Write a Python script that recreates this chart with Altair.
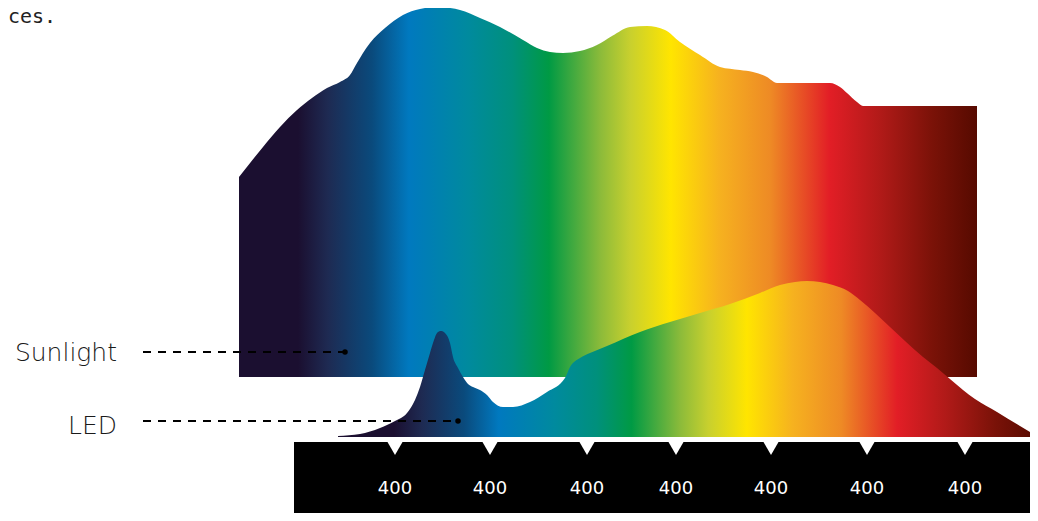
import altair as alt
import pandas as pd

# ---- data (x in wavelength-position units, y in intensity units)
sun_x = [239, 263, 280, 297, 312, 327, 340, 350, 357, 363, 370, 385, 403, 420, 437, 460, 480,
         500, 523, 537, 550, 563, 580, 597, 612, 630, 647, 665, 680, 700, 720, 740, 753, 767,
         777, 830, 840, 847, 857, 863, 977]
sun_y = [336, 366, 386, 403, 415, 425, 431, 438, 450, 460, 470, 485, 498, 504, 506, 503, 495,
         486, 473, 465, 461, 460, 462, 468, 477, 486, 487, 483, 471, 458, 446, 443, 441, 436,
         430, 430, 426, 420, 411, 407, 407]
sun_base = 136

led_x = [338, 360, 380, 395, 407, 415, 420, 425, 430, 434, 437, 441, 445, 450, 453, 458, 463,
         468, 473, 480, 487, 493, 503, 513, 530, 547, 565, 570, 580, 590, 607, 640, 670, 700,
         730, 760, 780, 795, 807, 820, 833, 848, 860, 875, 890, 905, 923, 937, 950, 963, 975,
         997, 1020, 1037]
led_y = [77, 79, 85, 92, 100, 113, 126, 143, 160, 173, 180, 182, 180, 170, 156, 145, 136,
         129, 126, 123, 118, 111, 106, 106, 111, 121, 135, 146, 155, 160, 167, 181, 191, 200,
         209, 220, 228, 231, 232, 231, 228, 222, 213, 200, 186, 172, 156, 145, 134, 123, 114,
         101, 87, 77]
led_base = 76

tick_x = [395, 490, 587, 676, 771, 867, 965]
tick_labels = ["400", "400", "400", "400", "400", "400", "400"]

series_names = ["Sunlight", "LED"]
leader_y = [161, 92]
leader_x_start = [143, 143]
leader_x_end = [345, 458]
label_y = [152, 79]
label_x = [117, 117]

bar_x = [294, 1040]
bar_y = [71, -8]
caption = "ces."

spectrum_offsets = [0.0, 0.08, 0.12, 0.18, 0.23, 0.31, 0.37, 0.42, 0.49, 0.53, 0.585,
                    0.65, 0.72, 0.80, 0.87, 0.94, 1.0]
spectrum_colors = ["#1b0f30", "#1b0f30", "#1e2a52", "#0a4a7c", "#0079bf", "#008a9e",
                   "#00907c", "#009a44", "#8cbb3a", "#c8d02e", "#ffe500", "#f6b21f",
                   "#ee8a25", "#e21e26", "#b01a18", "#7a1208", "#560a00"]

W, H = 1022, 505
xs = alt.Scale(domain=[8, 1030], nice=False, zero=False)
ys = alt.Scale(domain=[0, 505], nice=False, zero=False)

grad = alt.LinearGradient(
    gradient="linear",
    stops=[alt.GradientStop(offset=o, color=c) for o, c in zip(spectrum_offsets, spectrum_colors)],
    x1=0, x2=1, y1=0, y2=0,
)

sun_df = pd.DataFrame({"x": sun_x, "y": sun_y, "base": sun_base})
led_df = pd.DataFrame({"x": led_x, "y": led_y, "base": led_base})

def X(f="x"):
    return alt.X(f, type="quantitative", scale=xs, axis=None)

def Y(f="y"):
    return alt.Y(f, type="quantitative", scale=ys, axis=None)

sun = alt.Chart(sun_df).mark_area(color=grad, interpolate="monotone").encode(
    x=X(), y=Y(), y2="base:Q")
led = alt.Chart(led_df).mark_area(color=grad, interpolate="monotone").encode(
    x=X(), y=Y(), y2="base:Q")

bar_df = pd.DataFrame({"x": [bar_x[0]], "x2": [bar_x[1]], "y": [bar_y[0]], "y2": [bar_y[1]]})
bar = alt.Chart(bar_df).mark_rect(color="black").encode(
    x=X(), x2="x2:Q", y=Y(), y2="y2:Q")

tick_df = pd.DataFrame({"x": tick_x, "label": tick_labels, "ty": 64.5, "ly": 24})
ticks = alt.Chart(tick_df).mark_point(shape="triangle-down", filled=True, color="white",
                                      opacity=1, size=225, strokeWidth=0).encode(
    x=X(), y=Y("ty"))
tick_text = alt.Chart(tick_df).mark_text(color="white", font="DejaVu Sans", fontSize=18,
                                         baseline="middle", align="center").encode(
    x=X(), y=Y("ly"), text="label:N")

lead_df = pd.DataFrame({"name": series_names, "y": leader_y, "x": leader_x_start,
                        "x2": leader_x_end, "ly": label_y, "lx": label_x})
leaders = alt.Chart(lead_df).mark_rule(color="black", strokeWidth=2, strokeDash=[8, 7]).encode(
    x=X(), x2="x2:Q", y=Y())
dots = alt.Chart(lead_df).mark_point(shape="circle", filled=True, color="black",
                                     opacity=1, size=30).encode(x=X("x2"), y=Y())
labels = alt.Chart(lead_df).mark_text(color="#1a1a1a", font="DejaVu Sans", fontSize=25,
                                      fontWeight=200, align="right",
                                      baseline="alphabetic").encode(
    x=X("lx"), y=Y("ly"), text="name:N")

cap_df = pd.DataFrame({"x": [8], "y": [490], "t": [caption]})
cap = alt.Chart(cap_df).mark_text(color="#222222", font="DejaVu Sans Mono", fontSize=20,
                                  fontWeight=200, align="left", baseline="alphabetic").encode(
    x=X(), y=Y(), text="t:N")

chart = alt.layer(sun, led, bar, ticks, tick_text, leaders, dots, labels, cap).properties(
    width=W, height=H, autosize=alt.AutoSizeParams(type="none"), padding=0
).configure(background="white", view=alt.ViewConfig(strokeWidth=0, stroke=None))

chart.save("out.html", embed_options={"renderer": "svg", "actions": False})
